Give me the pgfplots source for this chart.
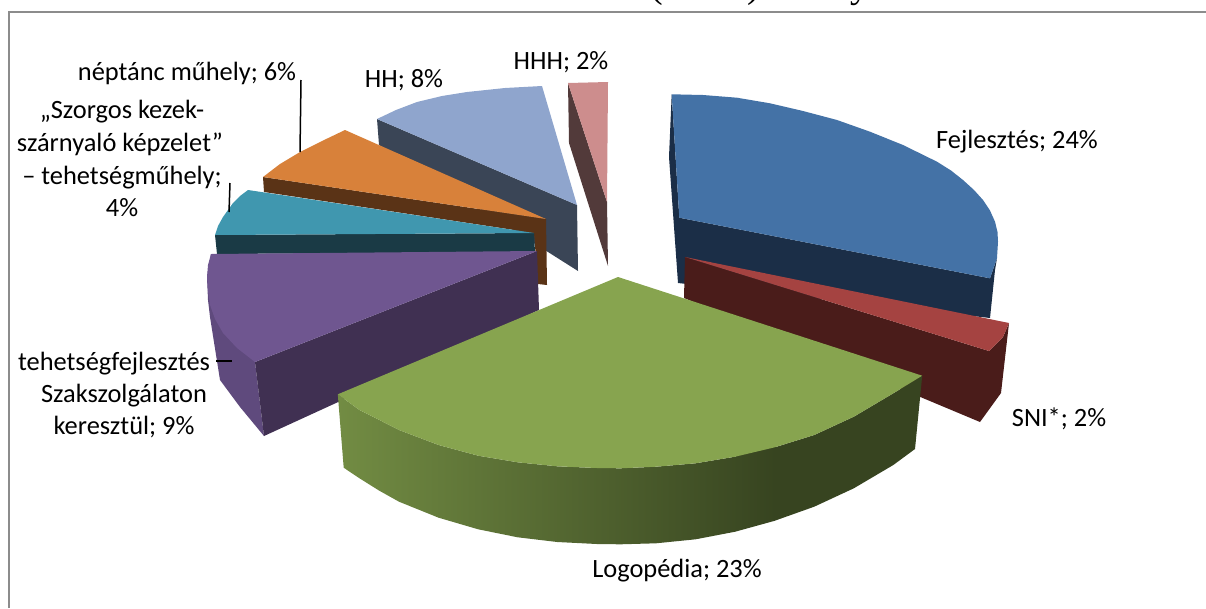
\documentclass[border=0pt]{standalone}
\usepackage{fontspec}
\setmainfont{Carlito}
\newfontfamily\serifti{Liberation Serif}
\usepackage{pgfplots}
\pgfplotsset{compat=1.18}
\definecolor{bT}{HTML}{4472A6}\definecolor{bD}{HTML}{1B2E47}
\definecolor{rT}{HTML}{A54341}\definecolor{rD}{HTML}{4A1C1A}
\definecolor{gT}{HTML}{87A44F}\definecolor{gL}{HTML}{728C43}\definecolor{gD}{HTML}{374420}
\definecolor{pT}{HTML}{6F5690}\definecolor{pD}{HTML}{403052}\definecolor{pM}{HTML}{5F4A7D}
\definecolor{tT}{HTML}{4097AF}\definecolor{tD}{HTML}{1A3A45}
\definecolor{oT}{HTML}{D8813A}\definecolor{oD}{HTML}{5A3316}
\definecolor{hT}{HTML}{8FA5CD}\definecolor{hD}{HTML}{3A4556}
\definecolor{kT}{HTML}{CD8D8D}\definecolor{kD}{HTML}{523A3A}
\definecolor{fr}{HTML}{8C8C8C}
\tikzset{lbl/.style={font=\fontsize{26.4}{28}\selectfont,text=black,inner sep=0pt,anchor=base}}
\begin{document}
\begin{tikzpicture}
\begin{axis}[name=a,scale only axis,width=1206pt,height=608pt,xmin=0,xmax=1206,ymin=0,ymax=608,y dir=reverse,hide axis,
  every axis plot/.append style={no marks,draw=none}]
% frame
\addplot[draw=fr,line width=2pt] coordinates {(9,608)(9,11.5)(1206,11.5)};
% HHH
\addplot[fill=kD] coordinates {(568,83)(569,143)(608,266)(607,202)};
\addplot[fill=kT] coordinates {(568,83)(608,82)(607,202)};
% HH
\addplot[fill=hD] coordinates {(377,119)(379,145)(578,271)(577,205)};
\addplot[fill=hT] coordinates {(377,119)(396,110)(417,102)(442,96)(467,92)(505,88)(542,86)(577,205)};
% orange
\addplot[fill=oD] coordinates {(263,177)(264,192)(534,233)(538,284)(547,285)(546,219)};
\addplot[fill=oT] coordinates {(263,177)(280,164)(300,152)(322,141)(345,130)(546,219)};
% teal
\addplot[fill=tD] coordinates {(215,235)(217,254)(535,252)(534,233)};
\addplot[fill=tT] coordinates {(215,235)(218,226)(223,217)(233,203)(240,196)(248,190)(534,233)};
% purple
\addplot[fill=pM] coordinates {(211,254)(207,277)(208,300)(210,317)(220,380)(240,407)(264,436)(255,362)};
\addplot[fill=pD] coordinates {(255,362)(264,436)(539,310)(537,251)};
\addplot[fill=pT] coordinates {(211,254)(208,265)(207,277)(208,291)(210,305)(215,319)(223,333)(237,348)(255,362)(537,251)};
% blue
\addplot[fill=bD] coordinates {(671.7,94.3)(669,157)(678,283)(990,318)(995,270)(997,258)(990,278.3)(679.3,217.7)};
\addplot[fill=bT] coordinates {(671.7,94.3)(703,95)(737,97.7)(770,103.3)(803,111)(837,120)(870,131.7)(903,145)(937,161.7)(951,170.5)(963,180)(974,190)(983,200)(990,210.5)(995,221.7)(997.5,232)(998,241.7)(997,258)(990,278.3)(679.3,217.7)};
% red
\addplot[fill=rD] coordinates {(685,257)(684,298)(980,422)(1001,393)(1009,323)(1003,337)(989,351)};
\addplot[fill=rT] coordinates {(685,257)(1009,323)(1003,337)(989,351)};
% green
\addplot[left color=gL,right color=gD,draw=none] coordinates {(337.8,394.3)(343.7,467.7)(359.5,478.3)(379.3,490.7)(399,501.7)(438.6,517.7)(478.2,529.3)(517.7,537.3)(557.2,542)(596.8,544)(620.5,544.3)(656,543.3)(695.6,539.3)(735.2,531.7)(775,520.7)(775,430)(735.2,456.7)(695.6,463.3)(656,466.7)(620.5,468.3)(596.8,468)(557.2,466.3)(517.7,462.3)(478.2,455.7)(438.6,445)(399,430)(379.3,420)(359.5,410)};
\addplot[fill=gD] coordinates {(774,440)(774,521)(814.2,506.7)(853.8,488.3)(893.3,465)(915,449)(922.2,375.7)(893.3,393.3)(853.8,416.7)(814.2,435)(774.7,447.3)};
\addplot[fill=gT] coordinates {(618,277)(337.8,394.3)(359.5,410)(379.3,420)(399,430)(438.6,445)(478.2,455.7)(517.7,462.3)(557.2,466.3)(596.8,468)(620.5,468.3)(656,466.7)(695.6,463.3)(735.2,456.7)(774.7,447.3)(814.2,435)(853.8,416.7)(893.3,393.3)(922.2,375.7)};
% leader lines
\addplot[draw=black,line width=1.5pt] coordinates {(301,80)(300,152)};
\addplot[draw=black,line width=1.5pt] coordinates {(230,183)(229,212)};
\addplot[draw=black,line width=1.5pt] coordinates {(216,361)(232,361)};
% labels
\node[lbl] at (axis cs:187,80) {néptánc műhely; 6\%};
\node[lbl] at (axis cs:404,87) {HH; 8\%};
\node[lbl] at (axis cs:561,69.5) {HHH; 2\%};
\node[lbl] at (axis cs:1017,148.5) {Fejlesztés; 24\%};
\node[lbl] at (axis cs:1059,426) {SNI*; 2\%};
\node[lbl] at (axis cs:677,577) {Logopédia; 23\%};
\node[lbl] at (axis cs:122,118) {„Szorgos kezek-};
\node[lbl] at (axis cs:120,151) {szárnyaló képzelet”};
\node[lbl] at (axis cs:122,184) {– tehetségműhely;};
\node[lbl] at (axis cs:122,216) {4\%};
\node[lbl] at (axis cs:114,370) {tehetségfejlesztés};
\node[lbl] at (axis cs:124,402) {Szakszolgálaton};
\node[lbl] at (axis cs:124,434) {keresztül; 9\%};
% clipped heading remnants
\node[overlay,anchor=base,inner sep=0pt,font=\serifti\fontsize{38}{40}\selectfont] at (axis cs:657,-3) {(};
\node[overlay,anchor=base,inner sep=0pt,font=\serifti\fontsize{38}{40}\selectfont] at (axis cs:754,-3) {)};
\node[overlay,anchor=base,inner sep=0pt,font=\serifti\fontsize{38}{40}\selectfont] at (axis cs:860,-3) {y};
\end{axis}
\useasboundingbox (a.south west) rectangle (a.north east);
\end{tikzpicture}
\end{document}
